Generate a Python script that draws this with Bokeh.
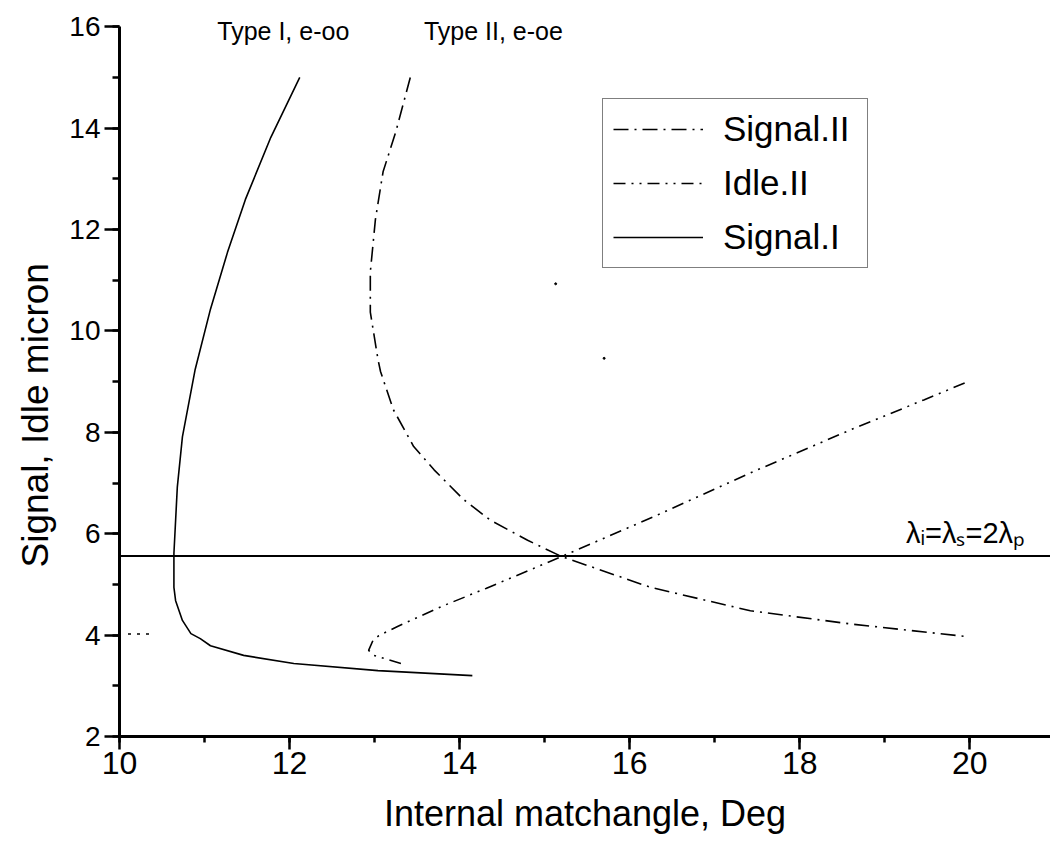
from bokeh.plotting import figure
from bokeh.models import (Range1d, SingleIntervalTicker, Span, Label, Legend,
                          LegendItem, Title)
from bokeh.embed import file_html
from bokeh.resources import INLINE

FONT = "Liberation Sans"

# ---- data ----
x_ticks_interval = 2
y_ticks_interval = 2

signal_I_x = [12.12, 11.78, 11.48, 11.27, 11.07, 10.89, 10.74, 10.68, 10.64,
              10.64, 10.66, 10.74, 10.84, 10.95, 11.07, 11.46, 12.05, 13.04, 14.15]
signal_I_y = [15.00, 13.82, 12.59, 11.55, 10.43, 9.24, 7.91, 6.92, 5.61,
              4.94, 4.68, 4.29, 4.03, 3.93, 3.79, 3.60, 3.44, 3.30, 3.20]

signal_II_x = [13.42, 13.25, 13.10, 13.01, 12.95, 12.95, 13.04, 13.07, 13.22,
               13.46, 13.70, 14.05, 14.36, 14.80, 15.20, 16.25, 17.42, 18.60, 19.97]
signal_II_y = [15.00, 13.93, 13.14, 12.20, 11.16, 10.37, 9.44, 9.20, 8.45,
               7.72, 7.26, 6.67, 6.27, 5.87, 5.55, 4.94, 4.48, 4.22, 3.97]

idle_II_x = [13.31, 13.15, 12.99, 12.93, 12.98, 13.05, 13.27, 13.81, 14.31,
             15.20, 16.33, 17.42, 18.60, 19.46, 19.95]
idle_II_y = [3.44, 3.52, 3.60, 3.70, 3.89, 3.99, 4.17, 4.58, 4.92,
             5.55, 6.37, 7.20, 8.05, 8.64, 8.98]

degenerate_level = 5.56          # lambda_i = lambda_s = 2 lambda_p

stray_x = [10.10, 10.40]
stray_y = [4.02, 4.02]

speck_x = [15.13, 15.70]
speck_y = [10.93, 9.46]

# ---- figure ----
p = figure(width=1050, height=846,
           x_range=Range1d(10, 20.95), y_range=Range1d(2, 16.4),
           output_backend="svg", toolbar_location=None,
           min_border_left=119, min_border_right=0,
           min_border_top=6, min_border_bottom=110,
           background_fill_color="white", border_fill_color="white")
p.outline_line_color = None
p.grid.visible = False

for ax in (p.xaxis[0], p.yaxis[0]):
    ax.axis_line_width = 3
    ax.axis_line_color = "black"
    ax.major_tick_line_width = 2.5
    ax.minor_tick_line_width = 2.5
    ax.major_tick_in = 0
    ax.minor_tick_in = 0
    ax.major_label_text_font = FONT
    ax.major_label_text_color = "black"
    ax.axis_label_text_font = FONT
    ax.axis_label_text_font_style = "normal"
    ax.axis_label_text_color = "black"

p.xaxis[0].ticker = SingleIntervalTicker(interval=x_ticks_interval, num_minor_ticks=2)
p.yaxis[0].ticker = SingleIntervalTicker(interval=y_ticks_interval, num_minor_ticks=2)
p.yaxis[0].bounds = (2, 16)

p.xaxis[0].major_tick_out = 13
p.xaxis[0].minor_tick_out = 6
p.xaxis[0].major_label_standoff = 2
p.xaxis[0].major_label_text_font_size = "32px"
p.xaxis[0].axis_label = "Internal matchangle, Deg"
p.xaxis[0].axis_label_text_font_size = "36px"
p.xaxis[0].axis_label_standoff = 16

p.yaxis[0].major_tick_out = 15
p.yaxis[0].minor_tick_out = 7
p.yaxis[0].major_label_standoff = 4
p.yaxis[0].major_label_text_font_size = "28px"

ytitle = Title(text="Signal, Idle micron", align="left", offset=169,
               text_font=FONT, text_font_size="37px", text_font_style="normal",
               text_color="black", standoff=22)
p.add_layout(ytitle, "left")

# ---- curves ----
r_sig2 = p.line(signal_II_x, signal_II_y, line_color="black", line_width=1.6,
                line_dash="15 6 2 6")
r_idle2 = p.line(idle_II_x, idle_II_y, line_color="black", line_width=1.6,
                 line_dash="12 6 2 6 2 6")
r_sig1 = p.line(signal_I_x, signal_I_y, line_color="black", line_width=1.6)
p.line(stray_x, stray_y, line_color="black", line_width=1.5, line_dash="3 6")
p.scatter(speck_x, speck_y, size=2, color="black")

p.add_layout(Span(location=degenerate_level, dimension="width",
                  line_color="black", line_width=2))

# ---- annotations ----
p.add_layout(Label(x=11.15, y=15.925, text="Type I, e-oo", text_font=FONT,
                   text_font_size="25px", text_color="black",
                   text_baseline="alphabetic"))
p.add_layout(Label(x=13.58, y=15.925, text="Type II, e-oe", text_font=FONT,
                   text_font_size="25px", text_color="black",
                   text_baseline="alphabetic"))
p.add_layout(Label(x=19.25, y=6.02, text="λᵢ=λₛ=2λₚ", text_font=FONT,
                   text_font_size="29px", text_color="black",
                   text_baseline="alphabetic"))

legend = Legend(items=[LegendItem(label="Signal.II", renderers=[r_sig2]),
                       LegendItem(label="Idle.II", renderers=[r_idle2]),
                       LegendItem(label="Signal.I", renderers=[r_sig1])],
                location=(483, 468),
                label_text_font=FONT, label_text_font_size="35px",
                label_text_color="black",
                glyph_width=90, glyph_height=30, label_standoff=20,
                label_width=134, padding=10, spacing=14, margin=0,
                border_line_color="black", border_line_width=1.5,
                background_fill_color="white", background_fill_alpha=1)
p.add_layout(legend)

open("out.html", "w").write(file_html(p, INLINE))
